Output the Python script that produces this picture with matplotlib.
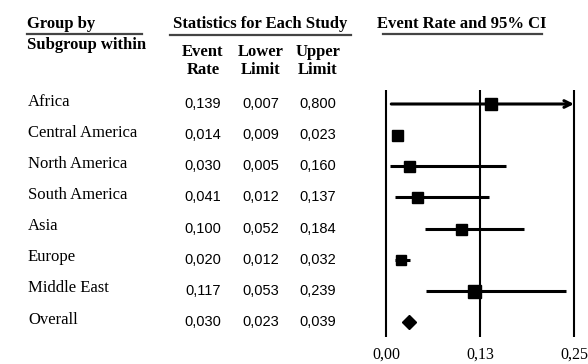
import matplotlib.pyplot as plt
import matplotlib.transforms as mtransforms
from matplotlib.lines import Line2D

groups = ['Africa', 'Central America', 'North America', 'South America',
          'Asia', 'Europe', 'Middle East', 'Overall']
event_rate = [0.139, 0.014, 0.030, 0.041, 0.100, 0.020, 0.117, 0.030]
lower = [0.007, 0.009, 0.005, 0.012, 0.052, 0.012, 0.053, 0.023]
upper = [0.800, 0.023, 0.160, 0.137, 0.184, 0.032, 0.239, 0.039]
# relative study weights (box size)
weights = [12, 11, 11, 11, 11, 10, 13]

xticks = [0.0, 0.125, 0.25]
xtick_labels = ['0,00', '0,13', '0,25']

W, H = 588, 364
serif = ['Liberation Serif', 'DejaVu Serif']
sans = ['Liberation Sans', 'DejaVu Sans']

def fx(px):
    return px / W

def fy(py):
    return 1 - py / H

fig = plt.figure(figsize=(W / 100, H / 100), dpi=100)

# forest plot axes: x=0 at 386px, 0.25 at 574px; rows 104..322px
scale = (574 - 386) / 0.25
ax_l, ax_r = 378, 584
ax_t, ax_b = 90, 337
ax = fig.add_axes([fx(ax_l), fy(ax_b), (ax_r - ax_l) / W, (ax_b - ax_t) / H])
ax.set_xlim(-(386 - ax_l) / scale, 0.25 + (ax_r - 574) / scale)
row_step = (322 - 104) / 7
ax.set_ylim(7 + (ax_b - 322) / row_step, -(104 - ax_t) / row_step)
for s in ax.spines.values():
    s.set_visible(False)
ax.set_yticks([])
ax.set_xticks(xticks, xtick_labels)
ax.tick_params(axis='x', length=0, pad=7)
for lab in ax.get_xticklabels():
    lab.set_fontfamily(serif)
    lab.set_fontsize(11.5)

for xv in xticks:
    ax.axvline(xv, color='black', lw=1.5, zorder=1)

xmax = 0.25
for i in range(7):
    lo, hi = lower[i], upper[i]
    if hi > xmax:
        ax.annotate('', xy=(xmax, i), xytext=(lo, i),
                    arrowprops=dict(arrowstyle='->', lw=2.2, color='black',
                                    shrinkA=0, shrinkB=0, mutation_scale=12),
                    zorder=2)
    else:
        ax.plot([lo, hi], [i, i], color='black', lw=2.2, solid_capstyle='butt', zorder=2)
    ax.plot(event_rate[i], i, marker='s', color='black', ms=weights[i] * 0.72,
            linestyle='none', zorder=3)

ax.plot(event_rate[7], 7, marker='D', color='black', ms=7, linestyle='none', zorder=3)

# table text aligned with forest rows
trans = mtransforms.blended_transform_factory(fig.transFigure, ax.transData)
col_x = [203, 261, 318]
for i, g in enumerate(groups):
    fig.text(fx(28), i - 0.08, g, transform=trans, family=serif, fontsize=12,
             va='center', ha='left')
    for cx, v in zip(col_x, [event_rate[i], lower[i], upper[i]]):
        fig.text(fx(cx), i, f'{v:.3f}'.replace('.', ','), transform=trans,
                 family=sans, fontsize=10.5, va='center', ha='center')

# headers
hdr = dict(family=serif, fontweight='bold', fontsize=12)
fig.text(fx(27), fy(24), 'Group by', ha='left', va='center', **hdr)
fig.text(fx(27), fy(45), 'Subgroup within', ha='left', va='center', **hdr)
fig.text(fx(260), fy(24), 'Statistics for Each Study', ha='center', va='center', **hdr)
fig.text(fx(462), fy(24), 'Event Rate and 95% CI', ha='center', va='center', **hdr)
for cx, t1, t2 in zip(col_x, ['Event', 'Lower', 'Upper'], ['Rate', 'Limit', 'Limit']):
    fig.text(fx(cx), fy(52), t1, ha='center', va='center', **hdr)
    fig.text(fx(cx), fy(70), t2, ha='center', va='center', **hdr)

for x0, x1, yy in [(27, 142, 34), (170, 351, 35), (383, 542, 34)]:
    fig.add_artist(Line2D([fx(x0), fx(x1)], [fy(yy), fy(yy)], color='#444444',
                          lw=1.6, transform=fig.transFigure))

fig.savefig('out.png', dpi=100)
